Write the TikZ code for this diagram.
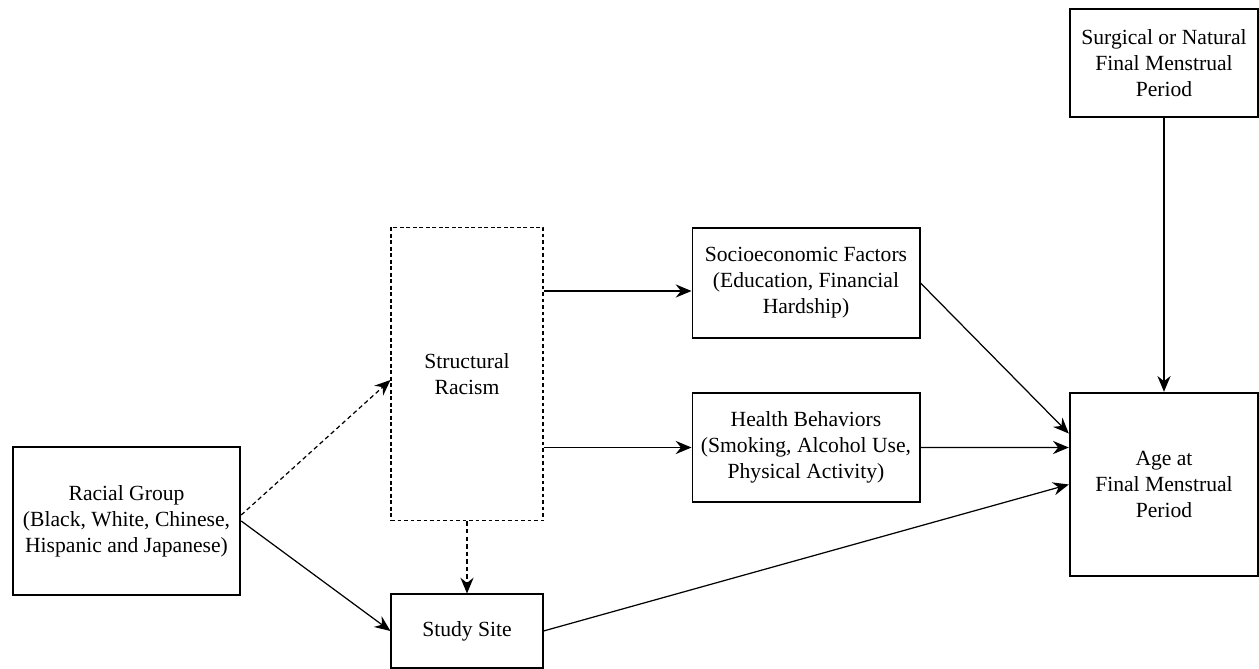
\documentclass[tikz,border=0pt]{standalone}
\usepackage{fontspec}
\setmainfont{Liberation Serif}
\usetikzlibrary{arrows.meta}
\begin{document}
\begin{tikzpicture}[
		x=0.02cm, y=-0.02cm,
		box/.style={rectangle, draw, line width=0.6pt, align=center, inner sep=0pt, font=\fontsize{12.3}{14.8}\selectfont},
		thickbox/.style={box, line width=1.4pt},
		dashbox/.style={box, dash pattern=on 2.2pt off 1.5pt},
		arr/.style={-{Stealth[length=9pt, width=7.5pt, inset=3pt]}, line width=0.7pt},
		dasharr/.style={arr, dash pattern=on 2.5pt off 1.8pt}
	]
  \useasboundingbox (0,0) rectangle (1259,669);
  \node (racial) [thickbox, minimum width=4.54cm, minimum height=2.96cm] at (126.5,521) {Racial Group\\(Black, White, Chinese,\\Hispanic and Japanese)};
  \node (structural) [dashbox, minimum width=3.04cm, minimum height=5.88cm] at (467,374) {Structural\\Racism};
  \node (socio) [box, minimum width=4.56cm, minimum height=2.2cm] at (806,283) {Socioeconomic Factors\\(Education, Financial\\Hardship)};
  \node (health) [box, minimum width=4.56cm, minimum height=2.18cm] at (806,447.5) {Health Behaviors\\(Smoking, Alcohol Use,\\Physical Activity)};
  \node (site) [box, minimum width=3.04cm, minimum height=1.48cm] at (467,631) {Study Site};
  \node (surgical) [thickbox, minimum width=3.76cm, minimum height=2.16cm] at (1164,63) {Surgical or Natural\\Final Menstrual\\Period};
  \node (age) [thickbox, minimum width=3.76cm, minimum height=3.66cm] at (1164,484.5) {Age at\\Final Menstrual\\Period};
  \coordinate (sociotip) at ([yshift=-0.16cm]socio.west);
  \draw [dasharr] ([yshift=0.12cm]racial.east) -- ([yshift=-0.12cm]structural.west);
  \draw [arr] (racial.east) -- (site.west);
  \draw [arr] (sociotip -| structural.east) -- (sociotip);
  \draw [arr] (health.west -| structural.east) -- (health.west);
  \draw [dasharr] (structural.south) -- (site.north);
  \draw [arr] (socio.east) -- ([yshift=1.02cm]age.west);
  \draw [arr] (health.east) -- ([yshift=0.74cm]age.west);
  \draw [arr] (site.east) -- (age.west);
  \draw [arr] (surgical.south) -- (age.north);
\end{tikzpicture}
\end{document}
